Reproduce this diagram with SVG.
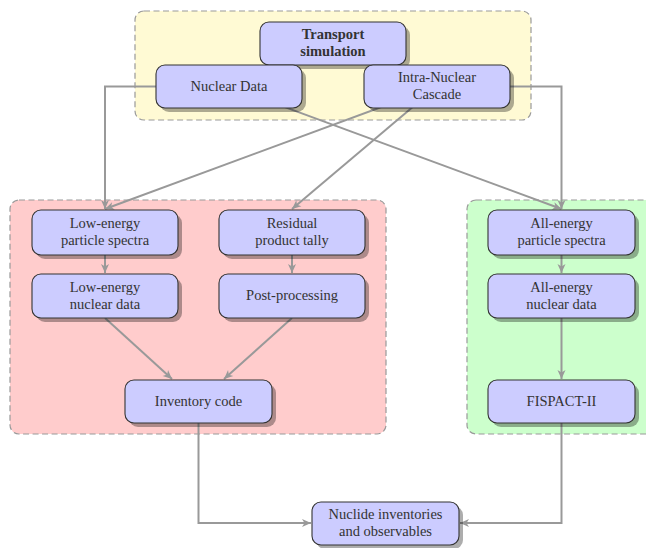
<svg xmlns="http://www.w3.org/2000/svg" width="646" height="548" viewBox="0 0 646 548" font-family="'Liberation Serif', 'DejaVu Serif', serif">
<defs>
<style>
.bg{stroke:#999;stroke-width:1.2;stroke-dasharray:6,3.5}
.edge{fill:none;stroke:#999;stroke-width:2;marker-end:url(#arr)}
.sh{fill:#000;fill-opacity:0.32}
.box{fill:#ccccff;stroke:#333;stroke-width:1.1}
.t{font-family:'Liberation Serif','DejaVu Serif',serif;font-size:14.5px;fill:#333;text-anchor:middle}
.b{font-weight:bold}
</style>
<marker id="arr" markerUnits="userSpaceOnUse" markerWidth="12" markerHeight="10" viewBox="-10 -5 12 10" refX="0" refY="0" orient="auto" overflow="visible">
<path d="M0,0 L-9,-4 L-6.5,0 L-9,4 Z" fill="#999"/>
</marker>
</defs>
<g id="backgrounds">
<rect class="bg" x="135" y="11" width="396" height="109" rx="9" fill="#fffad4"/>
<rect class="bg" x="10" y="200" width="376" height="234" rx="9" fill="#ffcccc"/>
<rect class="bg" x="467" y="200" width="190" height="234" rx="9" fill="#ccffcc"/>
</g>
<g id="connectors">
<path class="edge" d="M156,86.5 H105 V209"/>
<path class="edge" d="M437,86.5 L105,209"/>
<path class="edge" d="M437,86.5 L292,209"/>
<path class="edge" d="M229,86.5 L561.5,209"/>
<path class="edge" d="M510,86.5 H561.5 V209"/>
<path class="edge" d="M105,255 V273"/>
<path class="edge" d="M292,255 V273"/>
<path class="edge" d="M105,318 L172,379"/>
<path class="edge" d="M292,318 L224,379"/>
<path class="edge" d="M561.5,255 V273"/>
<path class="edge" d="M561.5,318 V379"/>
<path class="edge" d="M198.5,423 V523 H311"/>
<path class="edge" d="M561.5,423 V523 H460"/>
</g>
<g id="transport">
<rect class="sh" x="264" y="26" width="146" height="43" rx="9"/>
<rect class="box" x="260" y="22" width="146" height="43" rx="9"/>
<text class="t b" x="333" y="39">Transport</text>
<text class="t b" x="333" y="56">simulation</text>
</g>
<g id="nuclear">
<rect class="sh" x="160" y="69" width="146" height="43" rx="9"/>
<rect class="box" x="156" y="65" width="146" height="43" rx="9"/>
<text class="t" x="229" y="91">Nuclear Data</text>
</g>
<g id="intra">
<rect class="sh" x="368" y="69" width="146" height="43" rx="9"/>
<rect class="box" x="364" y="65" width="146" height="43" rx="9"/>
<text class="t" x="437" y="82">Intra-Nuclear</text>
<text class="t" x="437" y="99">Cascade</text>
</g>
<g id="lowspec">
<rect class="sh" x="36" y="214" width="146" height="45" rx="9"/>
<rect class="box" x="32" y="210" width="146" height="45" rx="9"/>
<text class="t" x="105" y="228">Low-energy</text>
<text class="t" x="105" y="245">particle spectra</text>
</g>
<g id="residual">
<rect class="sh" x="223" y="214" width="146" height="45" rx="9"/>
<rect class="box" x="219" y="210" width="146" height="45" rx="9"/>
<text class="t" x="292" y="228">Residual</text>
<text class="t" x="292" y="245">product tally</text>
</g>
<g id="lownd">
<rect class="sh" x="36" y="278" width="146" height="44" rx="9"/>
<rect class="box" x="32" y="274" width="146" height="44" rx="9"/>
<text class="t" x="105" y="292">Low-energy</text>
<text class="t" x="105" y="309">nuclear data</text>
</g>
<g id="post">
<rect class="sh" x="223" y="278" width="146" height="44" rx="9"/>
<rect class="box" x="219" y="274" width="146" height="44" rx="9"/>
<text class="t" x="292" y="300">Post-processing</text>
</g>
<g id="inventory">
<rect class="sh" x="129" y="384" width="147" height="43" rx="9"/>
<rect class="box" x="125" y="380" width="147" height="43" rx="9"/>
<text class="t" x="198.5" y="406">Inventory code</text>
</g>
<g id="allspec">
<rect class="sh" x="492" y="214" width="147" height="45" rx="9"/>
<rect class="box" x="488" y="210" width="147" height="45" rx="9"/>
<text class="t" x="561.5" y="228">All-energy</text>
<text class="t" x="561.5" y="245">particle spectra</text>
</g>
<g id="allnd">
<rect class="sh" x="492" y="278" width="147" height="44" rx="9"/>
<rect class="box" x="488" y="274" width="147" height="44" rx="9"/>
<text class="t" x="561.5" y="292">All-energy</text>
<text class="t" x="561.5" y="309">nuclear data</text>
</g>
<g id="fispact">
<rect class="sh" x="492" y="384" width="147" height="43" rx="9"/>
<rect class="box" x="488" y="380" width="147" height="43" rx="9"/>
<text class="t" x="561.5" y="406">FISPACT-II</text>
</g>
<g id="nuclide">
<rect class="sh" x="316" y="506" width="147" height="43" rx="9"/>
<rect class="box" x="312" y="502" width="147" height="43" rx="9"/>
<text class="t" x="385.5" y="519">Nuclide inventories</text>
<text class="t" x="385.5" y="536">and observables</text>
</g>
</svg>
